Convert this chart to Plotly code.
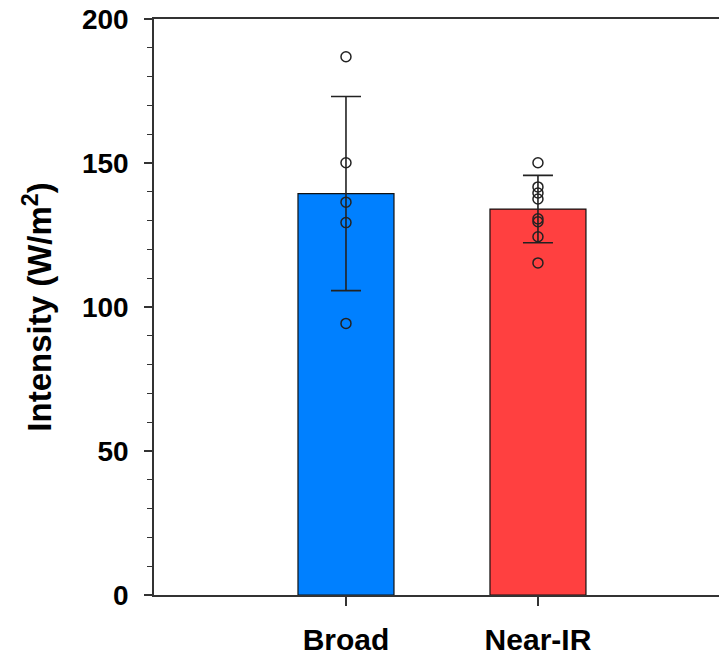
import plotly.graph_objects as go

categories = ["Broad", "Near-IR"]
bar_means = [139.4, 134.0]
bar_sd = [33.7, 11.7]
bar_colors = ["#0080FF", "#FF4040"]

broad_points = [186.9, 150.1, 136.4, 129.3, 94.3]
nearir_points = [150.1, 141.7, 139.6, 137.5, 130.6, 129.6, 124.4, 115.3]

FONT = "Liberation Sans, Arial, sans-serif"
AX = "#333333"

fig = go.Figure()
fig.add_trace(go.Bar(
    x=categories, y=bar_means, width=0.5,
    marker=dict(color=bar_colors, line=dict(color="#111111", width=1.2)),
    error_y=dict(type="data", array=bar_sd, visible=True, color="#222222",
                 thickness=1.6, width=15),
    showlegend=False,
))
fig.add_trace(go.Scatter(
    x=[categories[0]] * len(broad_points) + [categories[1]] * len(nearir_points),
    y=broad_points + nearir_points,
    mode="markers",
    marker=dict(symbol="circle-open", size=10, color="#222222", line=dict(width=1.5)),
    showlegend=False,
))

fig.update_layout(
    width=719, height=655,
    margin=dict(l=154, r=0, t=19, b=60),
    paper_bgcolor="white", plot_bgcolor="white",
    font=dict(family=FONT, color="#000000"),
)
fig.update_xaxes(
    range=[-1, 1.943], automargin=False,
    showline=True, linecolor=AX, linewidth=1.5, mirror=True,
    ticks="outside", ticklen=9, tickwidth=1.5, tickcolor=AX,
    ticklabelstandoff=8,
    tickfont=dict(family=FONT, size=30, weight="bold", color="#000000"),
    showgrid=False, zeroline=False,
)
fig.update_yaxes(
    range=[0, 200], dtick=50, tick0=0, automargin=False,
    showline=True, linecolor=AX, linewidth=1.5,
    ticks="outside", ticklen=8, tickwidth=1.5, tickcolor=AX,
    minor=dict(dtick=10, ticks="outside", ticklen=5, tickwidth=1.2, tickcolor=AX),
    ticklabelstandoff=10,
    ticklabeloverflow="allow",
    tickfont=dict(family=FONT, size=28, weight="bold", color="#000000"),
    title=dict(text="Intensity (W/m<sup>2</sup>)",
               font=dict(family=FONT, size=33, weight="bold", color="#000000"),
               standoff=20),
    showgrid=False, zeroline=False,
)

fig.write_html(
    "out.html",
    config={"displayModeBar": False},
    post_script="document.body.style.margin='0';document.body.style.overflow='hidden';",
)
